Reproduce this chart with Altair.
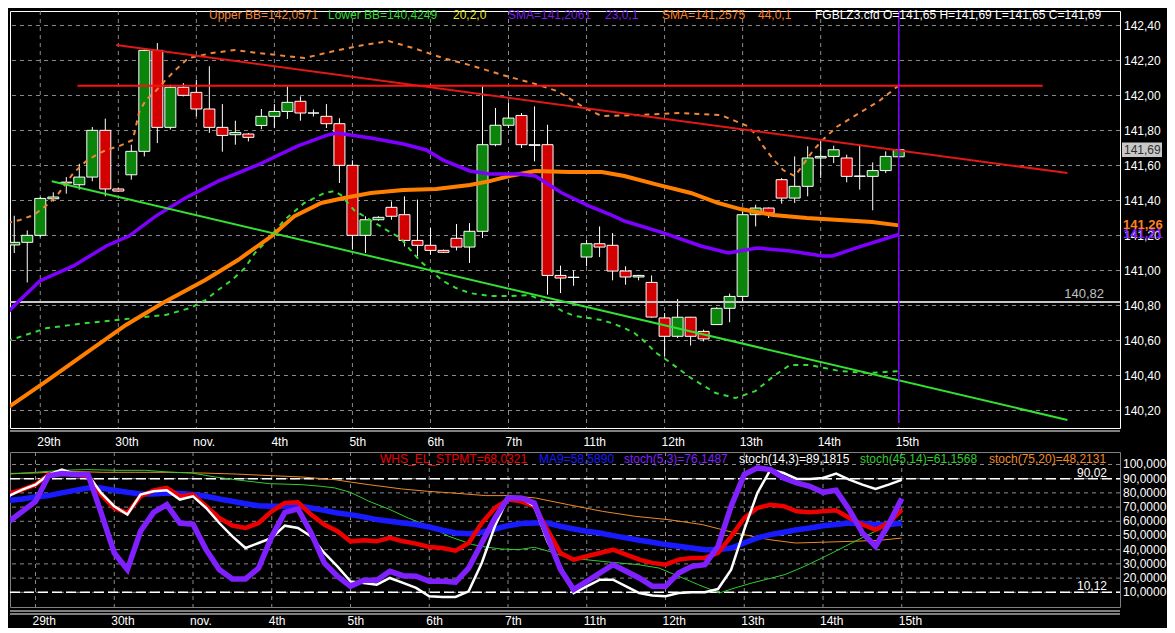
import altair as alt
import pandas as pd

# ---------------- price candles ----------------
cand_open = [141.146, 141.161, 141.201, 141.41, 141.50, 141.49, 141.534, 141.801, 141.466, 141.547,
             141.681, 142.258, 141.818, 142.047, 142.018, 141.923, 141.818, 141.776, 141.780, 141.829,
             141.881, 141.909, 141.967, 141.90, 141.881, 141.839, 141.601, 141.201, 141.29, 141.361,
             141.319, 141.172, 141.144, 141.115, 141.184, 141.134, 141.224, 141.719, 141.83, 141.886,
             141.719, 141.719, 140.972, 140.96, 141.077, 141.153, 141.144, 140.997, 140.963, 140.932,
             140.729, 140.624, 140.733, 140.652, 140.691, 140.784, 140.852, 141.319, 141.357, 141.519,
             141.414, 141.481, 141.643, 141.652, 141.643, 141.538, 141.538, 141.571, 141.65]
cand_high = [141.313, 141.229, 141.42, 141.447, 141.534, 141.61, 141.82, 141.868, 141.47, 141.719,
             142.271, 142.30, 142.062, 142.071, 142.09, 142.167, 141.951, 141.856, 141.786, 141.923,
             141.951, 142.052, 141.995, 141.92, 141.951, 141.87, 141.63, 141.31, 141.31, 141.395,
             141.424, 141.405, 141.243, 141.12, 141.266, 141.271, 142.052, 141.929, 141.957, 141.90,
             141.938, 141.833, 141.028, 141.001, 141.176, 141.252, 141.214, 141.024, 140.975, 140.972,
             140.757, 140.837, 140.735, 140.662, 140.790, 140.868, 141.338, 141.376, 141.36, 141.528,
             141.652, 141.71, 141.738, 141.713, 141.662, 141.719, 141.618, 141.681, 141.69]
cand_low = [141.10, 140.932, 141.19, 141.395, 141.439, 141.462, 141.51, 141.424, 141.45, 141.519,
            141.652, 141.728, 141.805, 141.995, 141.881, 141.786, 141.679, 141.719, 141.738, 141.808,
            141.814, 141.866, 141.856, 141.88, 141.814, 141.50, 141.119, 141.10, 141.285, 141.29,
            141.138, 141.081, 141.09, 141.10, 141.115, 141.043, 141.186, 141.71, 141.814, 141.70,
            141.624, 140.862, 140.871, 140.913, 141.024, 141.077, 140.944, 140.919, 140.944, 140.73,
            140.51, 140.614, 140.571, 140.595, 140.69, 140.704, 140.814, 141.252, 141.30, 141.382,
            141.386, 141.424, 141.529, 141.614, 141.504, 141.462, 141.344, 141.557, 141.65]
cand_close = [141.161, 141.201, 141.412, 141.42, 141.505, 141.534, 141.801, 141.466, 141.454, 141.681,
              142.258, 141.818, 142.047, 142.001, 141.923, 141.818, 141.772, 141.789, 141.761, 141.881,
              141.909, 141.961, 141.90, 141.90, 141.839, 141.601, 141.201, 141.29, 141.304, 141.31,
              141.172, 141.144, 141.115, 141.104, 141.134, 141.224, 141.719, 141.83, 141.871, 141.719,
              141.715, 140.972, 140.957, 140.962, 141.153, 141.134, 140.997, 140.963, 140.972, 140.734,
              140.624, 140.733, 140.624, 140.609, 140.784, 140.852, 141.319, 141.357, 141.328, 141.414,
              141.481, 141.643, 141.652, 141.69, 141.538, 141.540, 141.571, 141.652, 141.69]
cand_t = list(range(len(cand_open)))

# ---------------- tick positions / labels ----------------
day_ticks = [2, 8, 14, 20, 26, 32, 38, 44, 50, 56, 62, 68]
day_labels = ["29th", "30th", "nov.", "4th", "5th", "6th", "7th", "11th", "12th", "13th", "14th", "15th"]
price_ticks = [140.2, 140.4, 140.6, 140.8, 141.0, 141.2, 141.4, 141.6, 141.8, 142.0, 142.2, 142.4]
osc_ticks = [10, 20, 30, 40, 50, 60, 70, 80, 90, 100]

# ---------------- price overlays ----------------
sma23_t = [-0.55, 0.21, 1.96, 4.55, 7.07, 8.82, 10.88, 13.16, 15.68, 18.72,
           21.77, 24.06, 24.82, 27.41, 29.92, 31.68, 32.97, 35.03, 36.55, 38.84,
           40.06, 42.11, 44.17, 45.92, 46.91, 49.96, 52.78, 54.91, 57.12, 59.64,
           62.15, 62.91, 64.74, 68.0]
sma23_v = [140.757, 140.814, 140.940, 141.026, 141.140, 141.197, 141.311, 141.414, 141.511, 141.603,
           141.711, 141.774, 141.786, 141.757, 141.723, 141.689, 141.631, 141.569, 141.551, 141.551,
           141.540, 141.443, 141.369, 141.317, 141.283, 141.214, 141.140, 141.100, 141.129, 141.111,
           141.083, 141.083, 141.129, 141.206]

sma44_t = [-0.55, 2.50, 5.54, 8.59, 11.41, 14.69, 17.20, 19.79, 21.54, 23.60,
           25.35, 27.41, 29.92, 32.44, 35.03, 36.55, 38.08, 40.06, 42.65, 45.16,
           46.91, 49.50, 52.02, 54.08, 55.83, 58.34, 60.93, 63.44, 65.96, 68.0]
sma44_v = [140.214, 140.369, 140.529, 140.689, 140.814, 140.946, 141.060, 141.197, 141.311, 141.386,
           141.414, 141.443, 141.460, 141.466, 141.489, 141.511, 141.540, 141.569, 141.563, 141.563,
           141.540, 141.489, 141.443, 141.386, 141.351, 141.317, 141.300, 141.289, 141.277, 141.258]

bbu_t = [-0.55, 0.44, 1.50, 2.50, 3.26, 4.55, 5.54, 6.30, 7.07, 8.06,
         9.12, 9.58, 10.11, 10.88, 11.64, 12.40, 13.39, 15.22, 16.97, 18.72,
         20.25, 22.30, 24.59, 26.88, 28.78, 30.69, 32.97, 35.26, 37.54, 39.83,
         41.73, 43.87, 45.16, 48.21, 51.26, 54.30, 56.36, 57.12, 57.58, 58.27,
         59.11, 60.02, 60.63, 61.39, 62.15, 63.22, 64.97, 66.50, 68.0]
bbu_v = [141.271, 141.289, 141.317, 141.374, 141.426, 141.557, 141.626, 141.660, 141.689, 141.711,
         141.746, 141.900, 141.974, 142.026, 142.089, 142.146, 142.214, 142.243, 142.260, 142.243,
         142.231, 142.214, 142.254, 142.289, 142.311, 142.271, 142.214, 142.169, 142.117, 142.071,
         142.026, 141.929, 141.883, 141.889, 141.900, 141.889, 141.826, 141.769, 141.711, 141.643,
         141.574, 141.540, 141.603, 141.683, 141.746, 141.820, 141.900, 141.969, 142.057]

bbl_t = [-0.55, 2.50, 5.54, 8.59, 11.64, 13.54, 14.69, 15.68, 16.74, 17.73,
         18.50, 19.26, 20.78, 22.30, 23.83, 24.59, 25.12, 26.11, 26.88, 28.63,
         29.70, 30.46, 31.22, 32.21, 32.97, 33.96, 35.03, 36.55, 38.08, 39.60,
         41.12, 42.11, 43.10, 44.17, 45.16, 45.92, 46.91, 47.68, 48.59, 49.35,
         50.27, 52.02, 53.92, 55.45, 56.97, 58.50, 59.64, 61.17, 63.44, 65.73, 68.0]
bbl_v = [140.597, 140.671, 140.700, 140.723, 140.746, 140.786, 140.831, 140.889, 140.946, 141.014,
         141.100, 141.157, 141.289, 141.386, 141.443, 141.454, 141.431, 141.346, 141.311, 141.231,
         141.186, 141.117, 141.054, 140.986, 140.940, 140.900, 140.871, 140.854, 140.854, 140.860,
         140.814, 140.769, 140.740, 140.729, 140.717, 140.700, 140.671, 140.643, 140.586, 140.529,
         140.483, 140.386, 140.300, 140.271, 140.311, 140.403, 140.460, 140.460, 140.426, 140.414, 140.425]

red_trend_t = [7.83, 80.97]
red_trend_v = [142.289, 141.557]
green_trend_t = [2.88, 80.97]
green_trend_v = [141.510, 140.146]
red_level_t = [4.86, 79.07]
red_level_v = [142.056, 142.056]
ref_level = [140.82]
cursor_t = [68]

# ---------------- oscillators ----------------
osc_t = list(range(69))
whs = [79.5, 82.3, 85.8, 92.9, 94.5, 92.9, 91.7, 78.8, 69.4, 65.9,
       77.6, 81.8, 83.5, 77.6, 78.8, 70.6, 62.3, 57.0, 55.3, 58.8,
       67.0, 72.9, 73.4, 64.7, 57.7, 53.0, 45.9, 46.6, 45.9, 48.3,
       45.9, 44.3, 41.9, 41.2, 39.3, 44.7, 58.8, 69.4, 75.3, 74.1,
       70.6, 54.1, 37.7, 33.0, 35.4, 37.7, 40.0, 36.5, 33.0, 30.7,
       29.5, 33.0, 34.2, 34.2, 37.7, 49.4, 62.3, 69.4, 71.7, 70.6,
       67.0, 66.3, 67.0, 67.7, 62.3, 57.7, 54.1, 58.8, 68.0]
ma9 = [74.8, 75.7, 77.1, 78.1, 80.0, 81.8, 83.5, 83.5, 81.8, 80.4,
       79.2, 79.2, 80.0, 79.5, 78.8, 77.6, 75.7, 74.1, 72.4, 71.0,
       70.6, 70.6, 71.0, 69.4, 67.7, 65.9, 64.7, 63.1, 61.2, 60.0,
       58.8, 57.7, 56.0, 53.7, 51.8, 51.3, 52.3, 54.6, 56.9, 58.4,
       58.8, 58.8, 56.5, 54.6, 53.0, 51.8, 49.9, 48.3, 46.6, 45.2,
       43.6, 42.4, 41.2, 40.0, 40.0, 41.2, 44.7, 48.3, 50.6, 52.3,
       54.1, 55.3, 56.9, 57.7, 58.8, 58.4, 57.7, 57.7, 58.6]
st53 = [60.0, 67.0, 74.0, 92.0, 93.6, 93.0, 93.0, 66.0, 37.7, 26.0,
        53.0, 66.3, 71.7, 58.8, 58.0, 40.0, 26.0, 19.4, 19.4, 27.1,
        49.4, 66.3, 68.7, 51.8, 30.7, 21.3, 14.2, 18.5, 18.5, 24.8,
        21.7, 21.3, 17.7, 17.7, 17.2, 27.1, 44.7, 62.3, 76.4, 76.4,
        72.9, 49.4, 26.0, 11.9, 17.7, 23.6, 29.5, 24.8, 20.1, 14.2,
        14.2, 23.6, 28.3, 29.5, 42.4, 70.6, 92.9, 97.6, 96.4, 90.5,
        87.0, 84.6, 80.4, 81.8, 68.2, 51.8, 42.4, 57.7, 76.1]
st143 = [78.1, 82.3, 85.8, 92.9, 96.4, 93.6, 92.9, 80.0, 70.6, 64.7,
         78.8, 81.1, 81.8, 75.3, 77.6, 69.4, 58.8, 49.4, 41.2, 44.7,
         48.3, 56.9, 55.3, 49.4, 37.7, 28.3, 17.7, 16.6, 15.4, 20.1,
         16.6, 13.1, 7.2, 6.7, 6.7, 10.7, 30.7, 56.5, 76.4, 76.4,
         70.6, 45.9, 28.3, 9.5, 14.2, 18.9, 18.9, 14.2, 9.5, 7.7,
         7.2, 9.5, 10.0, 10.0, 12.3, 26.0, 54.1, 80.0, 96.4, 94.0,
         89.8, 89.8, 90.5, 93.6, 89.3, 85.8, 82.8, 85.8, 89.2]
st4514_t = [-0.55, 2.0, 4.0, 5.8, 8.3, 10.4, 12.1, 13.9, 15.7, 17.2,
            19.8, 22.3, 23.8, 24.8, 26.0, 27.4, 28.9, 30.4, 32.0, 33.5,
            35.3, 36.3, 37.5, 38.8, 40.0, 41.1, 42.6, 43.9, 45.9, 47.9,
            49.5, 51.0, 52.5, 54.1, 55.3, 56.6, 58.1, 59.1, 60.6, 62.2,
            63.7, 65.2, 66.5, 68.0]
st4514_v = [92.9, 94.5, 95.9, 96.4, 95.9, 95.9, 94.7, 94.0, 91.2, 89.3,
            86.5, 85.8, 84.6, 83.5, 80.4, 74.1, 68.7, 62.3, 56.5, 49.4,
            43.6, 41.9, 40.5, 40.0, 41.7, 38.9, 34.2, 33.0, 31.1, 29.5,
            27.1, 21.3, 15.4, 9.5, 13.1, 16.6, 20.1, 22.5, 28.3, 35.4,
            42.4, 49.4, 55.3, 61.2]
st7520_t = [-0.55, 2.0, 4.5, 7.1, 9.6, 12.1, 14.7, 17.2, 19.8, 22.3,
            24.8, 26.1, 27.4, 29.9, 31.9, 33.7, 36.3, 38.1, 40.1, 42.6,
            45.2, 47.7, 50.2, 52.8, 55.3, 57.9, 59.9, 61.7, 64.2, 66.3, 68.0]
st7520_v = [93.6, 94.0, 95.2, 94.5, 94.5, 94.5, 94.0, 93.3, 92.2, 91.2,
            89.3, 87.5, 85.8, 82.8, 81.1, 80.0, 78.1, 78.1, 76.4, 71.7,
            67.0, 63.5, 61.2, 57.7, 51.8, 47.1, 44.7, 45.2, 45.9, 46.6, 48.2]
osc_levels = [90.02, 10.12]

top_legend_text = ["Upper BB=142,0571", "Lower BB=140,4249", "20,2,0", "SMA=141,2061", "23,0,1",
                   "SMA=141,2575", "44,0,1",
                   "FGBLZ3.cfd O=141,65 H=141,69 L=141,65 C=141,69"]
top_legend_color = ["#f0883c", "#33dd33", "#e8e820", "#7a1fe6", "#7a1fe6", "#ff8020", "#ff8020", "#ffffff"]
low_legend_text = ["WHS_EL_STPMT=68,0321", "MA9=58,5890", "stoch(5,3)=76,1487", "stoch(14,3)=89,1815",
                   "stoch(45,14)=61,1568", "stoch(75,20)=48,2131"]
low_legend_color = ["#ee0000", "#1a1aff", "#8020ff", "#ffffff", "#30cc30", "#f08a28"]

# ---------------- layout / style ----------------
FONT = "Liberation Sans"
GRID = "#8a8a8a"
W, H1, H2 = 1110, 417, 155
BAR_PX = 13.125
X0 = 0.057
xs = alt.Scale(domain=[X0, X0 + W / BAR_PX], nice=False, zero=False)
ys = alt.Scale(domain=[140.1, 142.483], nice=False, zero=False)
os_ = alt.Scale(domain=[-0.35, 108.8], nice=False, zero=False)
top_legend_x = [199, 318, 443, 498, 595, 652, 748, 805]
low_legend_x = [370, 529, 614, 729, 850, 979]

fmt = "replace(format(datum.v, '.2f'), '.', ',')"
fmt_osc = "slice(replace(format(datum.v, '.4f'), '.', ','), 0, 7)"
one = pd.DataFrame({"k": [0]})
X = lambda: alt.X("t:Q", scale=xs, axis=None)


def line(ts, vs, color, width, yscale, dash=None):
    df = pd.DataFrame({"t": ts, "v": vs})
    kw = dict(color=color, strokeWidth=width, clip=True)
    if dash:
        kw["strokeDash"] = dash
    return alt.Chart(df).mark_line(**kw).encode(x=X(), y=alt.Y("v:Q", scale=yscale, axis=None))


def label(text, color, px, py, size=12, weight="normal"):
    df = pd.DataFrame({"s": [text]})
    return alt.Chart(df).mark_text(color=color, fontSize=size, font=FONT, align="left",
                                   baseline="middle", fontWeight=weight).encode(
        x=alt.value(px), y=alt.value(py), text="s:N")


def grid_and_ticks(yticks, yscale, yfmt, height, ylab_dx):
    days = pd.DataFrame({"t": day_ticks, "lab": day_labels})
    vals = pd.DataFrame({"v": yticks})
    vgrid = alt.Chart(days).mark_rule(color=GRID, strokeDash=[4, 4], strokeWidth=1).encode(x=X())
    hgrid = alt.Chart(vals).mark_rule(color=GRID, strokeDash=[4, 4], strokeWidth=1).encode(
        y=alt.Y("v:Q", scale=yscale, axis=None))
    xlab = alt.Chart(days).mark_text(color="white", fontSize=12, font=FONT, align="left",
                                     baseline="middle", dx=-3).encode(
        x=X(), y=alt.value(height + 14), text="lab:N")
    ylab = alt.Chart(vals).transform_calculate(s=yfmt).mark_text(
        color="white", fontSize=12, font=FONT, align="left", baseline="middle").encode(
        x=alt.value(W + ylab_dx), y=alt.Y("v:Q", scale=yscale, axis=None), text="s:N")
    return [vgrid, hgrid, xlab, ylab]


# ---------------- top panel ----------------
cand_df = pd.DataFrame({"t": cand_t, "open": cand_open, "high": cand_high,
                        "low": cand_low, "close": cand_close})

wicks = alt.Chart(cand_df).mark_rule(color="white", strokeWidth=1, clip=True).encode(
    x=X(), y=alt.Y("low:Q", scale=ys, axis=None), y2="high:Q")

bodies = alt.Chart(cand_df).transform_calculate(
    dir="datum.close >= datum.open ? 'up' : 'down'"
).mark_bar(size=11, stroke="white", strokeWidth=1, clip=True).encode(
    x=X(), y=alt.Y("open:Q", scale=ys, axis=None), y2="close:Q",
    color=alt.Color("dir:N", scale=alt.Scale(domain=["up", "down"], range=["#0a840a", "#d20000"]),
                    legend=None))

ref_df = pd.DataFrame({"v": ref_level})
ref_rule = alt.Chart(ref_df).mark_rule(color="#c8c8c8", strokeWidth=2).encode(
    y=alt.Y("v:Q", scale=ys, axis=None), x=alt.value(0), x2=alt.value(W))
ref_text = alt.Chart(ref_df).transform_calculate(s=fmt).mark_text(
    color="#c0c0c0", fontSize=13, font=FONT, align="right", dy=-8).encode(
    y=alt.Y("v:Q", scale=ys, axis=None), x=alt.value(W - 16), text="s:N")

cursor = alt.Chart(pd.DataFrame({"t": cursor_t})).mark_rule(color="#7f00ff", strokeWidth=1.5).encode(
    x=X(), y=alt.value(0), y2=alt.value(412))

bottom_sep = alt.Chart(one).mark_rule(color="white", strokeWidth=1).encode(
    x=alt.value(0), x2=alt.value(W), y=alt.value(H1 + 3))

sma44_last = pd.DataFrame({"v": [sma44_v[-1]]})
sma23_last = pd.DataFrame({"v": [sma23_v[-1]]})
close_last = pd.DataFrame({"v": [cand_close[-1]]})

mk44 = alt.Chart(sma44_last).transform_calculate(s=fmt).mark_text(
    color="#ff8020", fontSize=13, font=FONT, fontWeight="bold", align="left").encode(
    x=alt.value(W + 3), y=alt.Y("v:Q", scale=ys, axis=None), text="s:N")
mk23 = alt.Chart(sma23_last).transform_calculate(s=fmt).mark_text(
    color="#8020ff", fontSize=13, font=FONT, fontWeight="bold", align="left").encode(
    x=alt.value(W + 3), y=alt.Y("v:Q", scale=ys, axis=None), text="s:N")
close_box = alt.Chart(close_last).mark_point(
    shape="M-1,-0.36L1,-0.36L1,0.36L-1,0.36Z", size=1600, filled=True,
    color="#c8c8c8", opacity=1, strokeWidth=0).encode(
    x=alt.value(W + 22), y=alt.Y("v:Q", scale=ys, axis=None))
close_txt = alt.Chart(close_last).transform_calculate(s=fmt).mark_text(
    color="#303030", fontSize=12, font=FONT, align="left").encode(
    x=alt.value(W + 4), y=alt.Y("v:Q", scale=ys, axis=None), text="s:N")

top_layers = grid_and_ticks(price_ticks, ys, fmt, H1, 4) + [
    wicks, bodies, ref_rule, ref_text,
    line(bbl_t, bbl_v, "#33dd33", 2, ys, dash=[5, 5]),
    line(bbu_t, bbu_v, "#f0883c", 2, ys, dash=[5, 5]),
    line(sma44_t, sma44_v, "#ff8000", 4, ys),
    line(sma23_t, sma23_v, "#7f00ff", 3.5, ys),
    line(green_trend_t, green_trend_v, "#33e033", 2, ys),
    line(red_trend_t, red_trend_v, "#e01818", 2, ys),
    line(red_level_t, red_level_v, "#ff1010", 2, ys),
    cursor, bottom_sep,
]
top_layers += [label(t, c, x, 4) for t, c, x in zip(top_legend_text, top_legend_color, top_legend_x)]
top_layers += [close_box, close_txt, mk44, mk23]

top = alt.layer(*top_layers).properties(
    width=W, height=H1, view=alt.ViewBackground(stroke="white", strokeWidth=1))

# ---------------- lower panel ----------------
lvl_df = pd.DataFrame({"v": osc_levels})
lvl_rule = alt.Chart(lvl_df).mark_rule(color="white", strokeWidth=1.5, strokeDash=[10, 4]).encode(
    y=alt.Y("v:Q", scale=os_, axis=None), x=alt.value(0), x2=alt.value(W))
lvl_text = alt.Chart(lvl_df).transform_calculate(s=fmt).mark_text(
    color="white", fontSize=12, font=FONT, align="right", dy=-6).encode(
    y=alt.Y("v:Q", scale=os_, axis=None), x=alt.value(W - 13), text="s:N")

low_sep1 = alt.Chart(one).mark_rule(color="white", strokeWidth=1).encode(
    x=alt.value(0), x2=alt.value(W), y=alt.value(H2 + 4))
low_sep2 = alt.Chart(one).mark_rule(color="white", strokeWidth=1).encode(
    x=alt.value(0), x2=alt.value(W), y=alt.value(H2 + 7))

low_layers = grid_and_ticks(osc_ticks, os_, fmt_osc, H2, 3) + [
    lvl_rule, lvl_text,
    line(st7520_t, st7520_v, "#f08a28", 1, os_),
    line(st4514_t, st4514_v, "#30cc30", 1, os_),
    line(osc_t, ma9, "#1a1aff", 5.5, os_),
    line(osc_t, whs, "#ee0000", 4.5, os_),
    line(osc_t, st143, "#ffffff", 2.5, os_),
    line(osc_t, st53, "#8020ff", 5.5, os_),
    low_sep1, low_sep2,
]
low_layers += [label(t, c, x, 7) for t, c, x in zip(low_legend_text, low_legend_color, low_legend_x)]

bottom = alt.layer(*low_layers).properties(
    width=W, height=H2, view=alt.ViewBackground(stroke="#808080", strokeWidth=1))

chart = alt.vconcat(top, bottom, spacing=24, bounds="flush").properties(
    padding=0
).configure(background="black", font=FONT)

chart.save("out.html", embed_options={"renderer": "svg", "actions": False})
